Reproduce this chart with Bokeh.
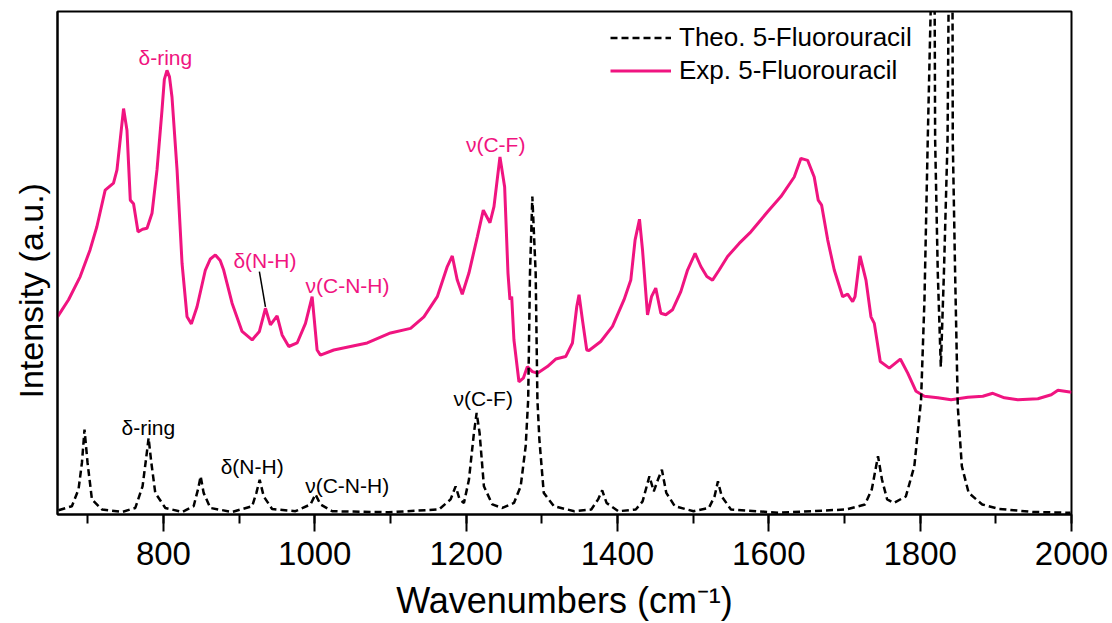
from bokeh.plotting import figure
from bokeh.models import (Range1d, SingleIntervalTicker, FixedTicker, Legend,
                          LegendItem, ColumnDataSource, Title)
from bokeh.embed import file_html
from bokeh.resources import INLINE
from bokeh.core.properties import value

# ---------------- data ----------------
exp_x = [660, 674.6, 690, 703, 712, 723, 734, 738.6, 747.3, 751.8,
         756.2, 760.5, 766.4, 772.4, 778.3, 784.9, 791.5, 798.1, 801.2, 804.7, 808.0, 811.3,
         818, 824.6, 831.2, 836.9, 844.4, 855.4, 862.0, 868.6, 875.0, 879.6, 890.7, 903.9,
         917.2, 926.8, 934.8, 941.4, 950.2, 956.8, 965.6, 976.7, 987.7, 996.5,
         1003.1, 1007.5, 1025.1, 1069.3, 1100.1, 1126.6, 1144.2, 1161.9, 1175.1, 1181.7,
         1188.3, 1194.9, 1203.7, 1214.8, 1222.7, 1231.5, 1236.8, 1244.7, 1250.9, 1255.3,
         1257.9, 1260.2, 1263.2, 1269.8, 1275.6, 1280.9, 1287.5, 1294.2, 1307.4, 1318.4,
         1331.6, 1340.5, 1346.2, 1349.2, 1353.7, 1359.4, 1362.4, 1377.9, 1393.4, 1408.7,
         1417.6, 1423.3, 1429.1, 1433.1, 1439.7, 1445.0, 1450.6, 1457.3, 1463.9, 1472.7,
         1483.7, 1492.6, 1502.6, 1510.2, 1518.1, 1525.6, 1534.4, 1545.5, 1560.8, 1576.3,
         1598.4, 1616.0, 1633.6, 1642.4, 1651.3, 1660.0, 1665.3, 1669.8, 1677.8, 1686.5,
         1697.6, 1704.2, 1710.8, 1713.9, 1720.5, 1728.4, 1735.0, 1739.4, 1747.3, 1759.2,
         1773.8, 1783.6, 1794.6, 1805.6, 1823.3, 1840.9, 1863.0, 1882.8, 1896.0, 1911.4,
         1929.1, 1955.6, 1973.2, 1982.1, 2000]
exp_y = [39.3, 42.7, 47.3, 52.6, 57.2, 64.5, 65.9, 68.5, 80.7, 76.4,
         62.5, 61.8, 56.2, 56.7, 56.9, 59.9, 68.5, 80.4, 86.5, 88.3, 87.0, 83.0,
         68.5, 49.9, 39.3, 37.9, 41.3, 48.6, 50.8, 51.6, 50.5, 48.6, 42.0, 36.4,
         34.7, 36.4, 41.0, 37.7, 39.5, 35.7, 33.4, 34.1, 38.0, 43.3,
         32.7, 31.7, 32.7, 34.1, 36.1, 37.0, 39.3, 43.3, 49.3, 51.4,
         46.6, 43.8, 48.0, 55.2, 60.5, 58.0, 61.2, 71.1, 65.1, 48.0,
         42.7, 43.3, 34.7, 26.4, 27.1, 29.4, 28.4, 28.1, 29.4, 30.9,
         31.4, 34.1, 41.3, 43.7, 38.7, 32.7, 32.6, 34.4, 37.4, 42.7,
         46.6, 54.6, 58.7, 52.6, 39.7, 43.3, 45.0, 40.0, 39.7, 40.7,
         44.3, 48.6, 51.9, 49.3, 47.3, 46.6, 48.6, 51.3, 53.9, 56.2,
         60.2, 63.2, 67.1, 70.8, 70.4, 67.1, 62.5, 61.5, 54.6, 48.6,
         43.3, 43.8, 42.3, 43.3, 51.4, 46.6, 39.3, 38.0, 30.4, 29.1,
         30.9, 28.1, 24.5, 23.5, 23.2, 22.8, 23.3, 23.5, 24.1, 23.2,
         22.8, 23.0, 23.8, 24.7, 24.3]

theo_x = [661.3, 679, 687.8, 692.3, 695.7, 699.7, 705.5, 718.7, 745.2, 762.8,
          772.4, 776.9, 780.4, 784.0, 789.2, 802.5, 824.6, 839.9, 845.7, 849.2,
          853.1, 862.0, 890.7, 917.2, 922.8, 927.2, 932.5, 943.6, 974.4, 994.3,
          1000.9, 1007.5, 1023.0, 1097.9, 1164.0, 1179.5, 1186.1, 1191.4, 1197.1, 1203.7,
          1210.3, 1213.9, 1217.8, 1223.5, 1234.6, 1247.9, 1263.2, 1272.1, 1278.7, 1282.0,
          1284.4, 1287.5, 1291.9, 1294.2, 1296.8, 1302.6, 1316.1, 1343.0, 1365.4, 1374.4,
          1379.8, 1385.6, 1401.2, 1424.2, 1433.2, 1442.2, 1448.0, 1453.4, 1458.7, 1464.5,
          1475.8, 1500.5, 1520.8, 1528.3, 1532.8, 1537.8, 1549.9, 1612.7, 1702.5, 1727.1,
          1736.1, 1744.3, 1749.6, 1756.4, 1765.3, 1781.1, 1792.3, 1801.2, 1805.7, 1810.2,
          1813.8, 1816.5, 1819.2, 1819.8, 1823.3, 1827.3, 1831.4, 1836.2, 1837.5, 1840.2,
          1842.8, 1843.1, 1846.2, 1849.7, 1855.1, 1864.1, 1882.0, 1904.3, 1949.3, 1998.7]
theo_y = [0.85, 1.65, 5.0, 10.3, 16.9, 10.3, 3.0, 1.0, 0.5, 1.3,
          5.6, 10.9, 15.2, 10.3, 4.3, 1.3, 0.5, 1.65, 5.0, 7.6,
          4.3, 1.3, 0.5, 1.65, 4.3, 6.9, 3.6, 1.1, 0.65, 2.0,
          4.0, 2.0, 0.65, 0.45, 1.0, 3.0, 5.6, 3.0, 2.3, 6.9,
          16.2, 20.2, 16.2, 5.6, 2.0, 1.3, 2.3, 5.6, 13.6, 22.8,
          48.0, 63.2, 48.0, 22.8, 14.9, 4.3, 1.65, 0.65, 1.0, 3.0,
          4.8, 2.3, 0.65, 1.0, 2.6, 7.6, 4.6, 6.9, 8.9, 4.3,
          1.65, 0.65, 1.3, 3.6, 6.6, 3.6, 1.0, 0.35, 1.0, 2.0,
          5.0, 11.6, 6.9, 3.0, 2.3, 3.6, 9.6, 22.8, 42.7, 75.7,
          99.6, 112, 99.6, 74.4, 48.0, 29.4, 48.0, 74.4, 99.6, 112,
          99.6, 74.4, 48.0, 21.5, 9.6, 4.3, 2.0, 1.1, 0.5, 0.35]

exp_label_text = ["δ-ring", "δ(N-H)", "ν(C-N-H)", "ν(C-F)"]
exp_label_x = [802.5, 934.1, 1043.2, 1239.0]
exp_label_y = [90.9, 50.4, 45.6, 73.6]

theo_label_text = ["δ-ring", "δ(N-H)", "ν(C-N-H)", "ν(C-F)"]
theo_label_x = [780.0, 917.2, 1042.8, 1222.5]
theo_label_y = [17.3, 9.5, 5.75, 23.0]

leader_x = [926.8, 934.8]
leader_y = [48.3, 41.3]

series_names = ["Theo. 5-Fluorouracil", "Exp. 5-Fluorouracil"]
x_title = "Wavenumbers (cm\u207b\u00b9)"
y_title = "Intensity (a.u.)"

FONT = "Liberation Sans"
PINK = "#F01480"

p = figure(width=1110, height=623,
           x_range=Range1d(660, 2000), y_range=Range1d(0, 100),
           output_backend="svg", toolbar_location=None,
           min_border_left=57, min_border_right=39,
           min_border_top=11, min_border_bottom=108)

p.xgrid.visible = False
p.ygrid.visible = False
p.outline_line_color = "black"
p.outline_line_width = 2
p.background_fill_color = "white"
p.border_fill_color = "white"

xa = p.xaxis[0]
xa.ticker = SingleIntervalTicker(interval=200, num_minor_ticks=2)
xa.axis_line_width = 2
xa.major_tick_line_width = 2
xa.minor_tick_line_width = 2
xa.major_tick_in = 0
xa.major_tick_out = 17
xa.minor_tick_in = 0
xa.minor_tick_out = 9
xa.major_label_text_font = FONT
xa.major_label_text_font_size = "33px"
xa.major_label_text_color = "black"
xa.major_label_standoff = 10
xa.axis_label = x_title
xa.axis_label_text_font = FONT
xa.axis_label_text_font_size = "36px"
xa.axis_label_text_font_style = "normal"
xa.axis_label_text_color = "black"
xa.axis_label_standoff = 12

ya = p.yaxis[0]
ya.ticker = FixedTicker(ticks=[])
ya.axis_line_width = 2
ya.major_tick_line_color = None
ya.minor_tick_line_color = None
ya.major_label_standoff = 0

# y-axis title as a side-panel title (allows placing it along the axis)
p.add_layout(Title(text=y_title, align="left", offset=116, standoff=15,
                   text_font=FONT, text_font_size="34px",
                   text_font_style="normal", text_color="black"), "left")

r_exp = p.line(exp_x, exp_y, line_color=PINK, line_width=3)
r_theo = p.line(theo_x, theo_y, line_color="black", line_width=2.5, line_dash="7 4")

p.line(leader_x, leader_y, line_color="black", line_width=1.5)

src_e = ColumnDataSource(dict(x=exp_label_x, y=exp_label_y, t=exp_label_text))
p.text(x="x", y="y", text="t", source=src_e, text_color=PINK,
       text_font=value(FONT), text_font_size=value("21px"),
       text_align="center", text_baseline="middle")
src_t = ColumnDataSource(dict(x=theo_label_x, y=theo_label_y, t=theo_label_text))
p.text(x="x", y="y", text="t", source=src_t, text_color="black",
       text_font=value(FONT), text_font_size=value("21px"),
       text_align="center", text_baseline="middle")

legend = Legend(items=[LegendItem(label=series_names[0], renderers=[r_theo]),
                       LegendItem(label=series_names[1], renderers=[r_exp])],
                location=(553, 427), orientation="vertical",
                padding=0, margin=0, spacing=0,
                glyph_width=61, glyph_height=33, label_height=33,
                label_standoff=8,
                label_text_font=FONT, label_text_font_size="26px",
                label_text_color="black",
                border_line_color=None, background_fill_alpha=0)
p.add_layout(legend)

open("out.html", "w").write(file_html(p, INLINE))
